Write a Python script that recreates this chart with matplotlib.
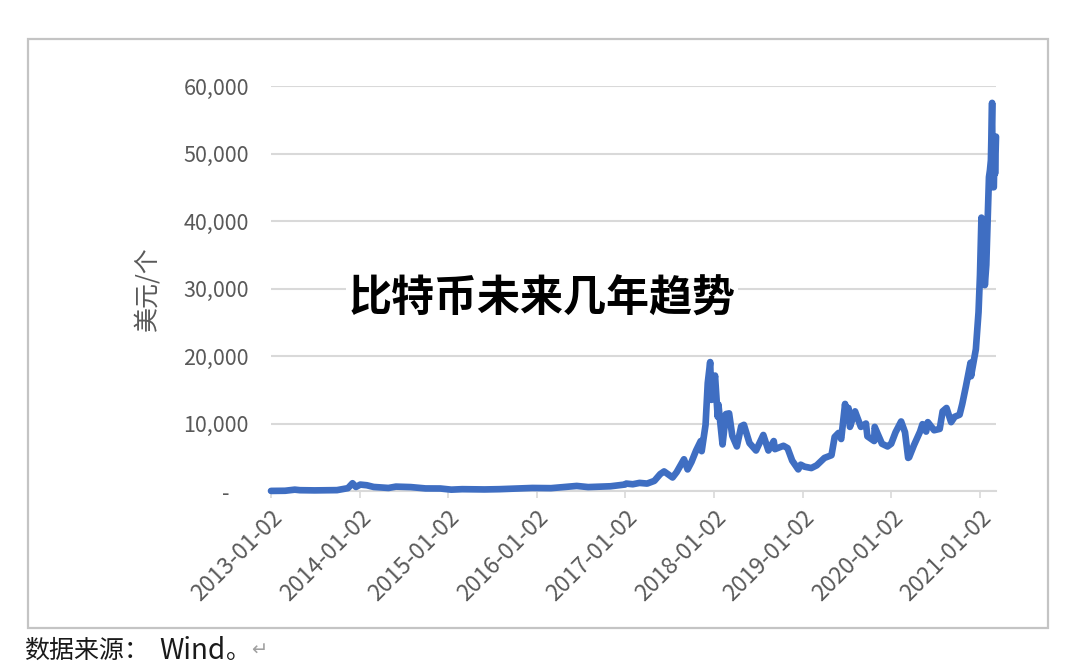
import matplotlib
matplotlib.use("Agg")
import matplotlib.pyplot as plt
from matplotlib.patches import Rectangle
import pandas as pd

plt.rcParams['font.family'] = ['Noto Sans CJK SC', 'DejaVu Sans']

# ---- data (USD per coin) ----
dates = [
    "2013-01-02", "2013-03-01", "2013-04-10", "2013-05-01", "2013-07-01", "2013-10-01",
    "2013-11-15", "2013-12-04", "2013-12-18", "2014-01-05", "2014-02-01", "2014-03-01",
    "2014-05-01", "2014-06-01", "2014-08-01", "2014-10-01", "2014-12-01", "2015-01-15",
    "2015-03-01", "2015-06-01", "2015-08-01", "2015-11-05", "2015-12-15", "2016-03-01",
    "2016-06-15", "2016-08-01", "2016-11-01", "2016-12-31", "2017-01-05", "2017-02-01",
    "2017-03-01", "2017-04-01", "2017-05-01", "2017-05-25", "2017-06-10", "2017-07-15",
    "2017-08-01", "2017-08-31", "2017-09-15", "2017-10-01", "2017-10-20", "2017-11-08",
    "2017-11-12", "2017-11-28", "2017-12-07", "2017-12-17", "2017-12-22", "2017-12-25",
    "2018-01-06", "2018-01-17", "2018-01-20", "2018-02-06", "2018-02-20", "2018-03-05",
    "2018-03-18", "2018-04-06", "2018-04-24", "2018-05-05", "2018-05-28", "2018-06-24",
    "2018-07-24", "2018-08-14", "2018-09-05", "2018-09-10", "2018-10-15", "2018-11-01",
    "2018-11-20", "2018-12-15", "2018-12-25", "2019-01-10", "2019-02-07", "2019-03-01",
    "2019-04-02", "2019-05-01", "2019-05-14", "2019-05-30", "2019-06-10", "2019-06-26",
    "2019-07-02", "2019-07-10", "2019-07-16", "2019-08-06", "2019-08-30", "2019-09-20",
    "2019-09-26", "2019-10-24", "2019-10-26", "2019-11-25", "2019-12-18", "2020-01-02",
    "2020-01-20", "2020-02-12", "2020-02-28", "2020-03-12", "2020-03-16", "2020-04-05",
    "2020-04-30", "2020-05-10", "2020-05-25", "2020-06-01", "2020-06-27", "2020-07-20",
    "2020-08-01", "2020-08-17", "2020-09-05", "2020-09-20", "2020-10-10", "2020-10-21",
    "2020-11-05", "2020-11-24", "2020-11-26", "2020-12-16", "2020-12-27", "2021-01-02",
    "2021-01-08", "2021-01-11", "2021-01-15", "2021-01-22", "2021-01-28", "2021-02-08",
    "2021-02-12", "2021-02-16", "2021-02-21", "2021-02-23", "2021-02-28", "2021-03-03",
    "2021-03-05", "2021-03-09",
]
prices = [
    13, 35, 200, 120, 90, 130,
    420, 1150, 600, 950, 850, 600,
    450, 650, 580, 380, 370, 200,
    270, 230, 270, 400, 450, 420,
    750, 580, 700, 960, 1100, 1000,
    1200, 1100, 1500, 2500, 2900, 2000,
    2800, 4700, 3200, 4300, 6000, 7400,
    5900, 9800, 16000, 19100, 13500, 14000,
    17100, 11000, 12800, 6900, 11400, 11500,
    8200, 6600, 9600, 9800, 7100, 6000,
    8300, 6000, 7400, 6200, 6700, 6350,
    4500, 3200, 3900, 3600, 3400, 3800,
    4900, 5300, 8000, 8600, 7700, 12900,
    10500, 12300, 9500, 11800, 9500, 10000,
    8100, 7400, 9500, 7000, 6600, 7000,
    8700, 10300, 8700, 4900, 5000, 6800,
    8800, 9900, 8800, 10200, 9000, 9200,
    11800, 12300, 10200, 11000, 11300, 12900,
    15500, 19000, 17000, 21000, 26500, 32000,
    40500, 34000, 39000, 30500, 33500, 46500,
    47500, 49000, 57500, 45000, 45000, 51000,
    47000, 52500,
]
x_ticks = ["2013-01-02", "2014-01-02", "2015-01-02", "2016-01-02", "2017-01-02",
           "2018-01-02", "2019-01-02", "2020-01-02", "2021-01-02"]
y_ticks = [0, 10000, 20000, 30000, 40000, 50000, 60000]
y_tick_labels = ["-    ", "10,000", "20,000", "30,000", "40,000", "50,000", "60,000"]
y_label = "美元/个"
title = "比特币未来几年趋势"
source_cjk = "数据来源："
source_latin = "Wind"
source_end = "。"
return_mark = "↵"

# ---- figure ----
W, H = 1080, 670
fig = plt.figure(figsize=(W / 100, H / 100), dpi=100)
fig.patch.set_facecolor("white")

# outer border box
fig.patches.append(Rectangle((28 / W, 1 - 628 / H), (1048 - 28) / W, (628 - 39) / H,
                             transform=fig.transFigure, fill=False,
                             edgecolor="#C4C4C4", linewidth=1.6, zorder=0))

ax = fig.add_axes([271 / W, 1 - 491 / H, (996 - 271) / W, (491 - 86) / H])
d = pd.to_datetime(dates)
ax.plot(d, prices, color="#3F6EC2", linewidth=4.8, solid_joinstyle="round",
        solid_capstyle="round", zorder=3, clip_on=False)

ax.set_ylim(0, 60000)
ax.set_xlim(pd.Timestamp("2013-01-02"), pd.Timestamp("2021-03-09"))

ax.set_yticks(y_ticks)
ax.set_yticklabels(y_tick_labels)
xt = pd.to_datetime(x_ticks)
ax.set_xticks(xt)
ax.set_xticklabels(x_ticks, rotation=45, ha="right", va="top", rotation_mode="anchor")

for s in ["left", "right", "top"]:
    ax.spines[s].set_visible(False)
ax.spines["bottom"].set_color("#D9D9D9")
ax.spines["bottom"].set_linewidth(1.5)

ax.grid(axis="y", color="#D9D9D9", linewidth=1.5)
ax.set_axisbelow(True)
ax.tick_params(axis="y", length=0, pad=16, labelsize=15.5, labelcolor="#595959")
ax.tick_params(axis="x", length=5, width=1.2, color="#D9D9D9", direction="out",
               pad=6, labelsize=16.5, labelcolor="#595959")

ax.set_ylabel(y_label, fontsize=18, color="#595959")
ax.yaxis.set_label_coords(-(271 - 160) / (996 - 271), (491 - 289) / (491 - 86))

# big overlay title
fig.text(542 / W, 1 - 299 / H, title, fontsize=31, fontweight="heavy", color="black",
         ha="center", va="center",
         bbox=dict(facecolor="white", edgecolor="none", pad=2))

# source footnote
fig.text(24 / W, 1 - 651 / H, source_cjk, fontsize=18, color="#1a1a1a",
         ha="left", va="center")
fig.text(159 / W, 1 - 651 / H, source_latin, fontsize=20, color="#1a1a1a",
         ha="left", va="center")
fig.text(226 / W, 1 - 651 / H, source_end, fontsize=18, color="#1a1a1a",
         ha="left", va="center")
fig.text(251 / W, 1 - 650 / H, return_mark, fontsize=14, color="#A0A0A0",
         ha="left", va="center", family=["DejaVu Sans"])

fig.savefig("out.png", dpi=100, facecolor="white")
